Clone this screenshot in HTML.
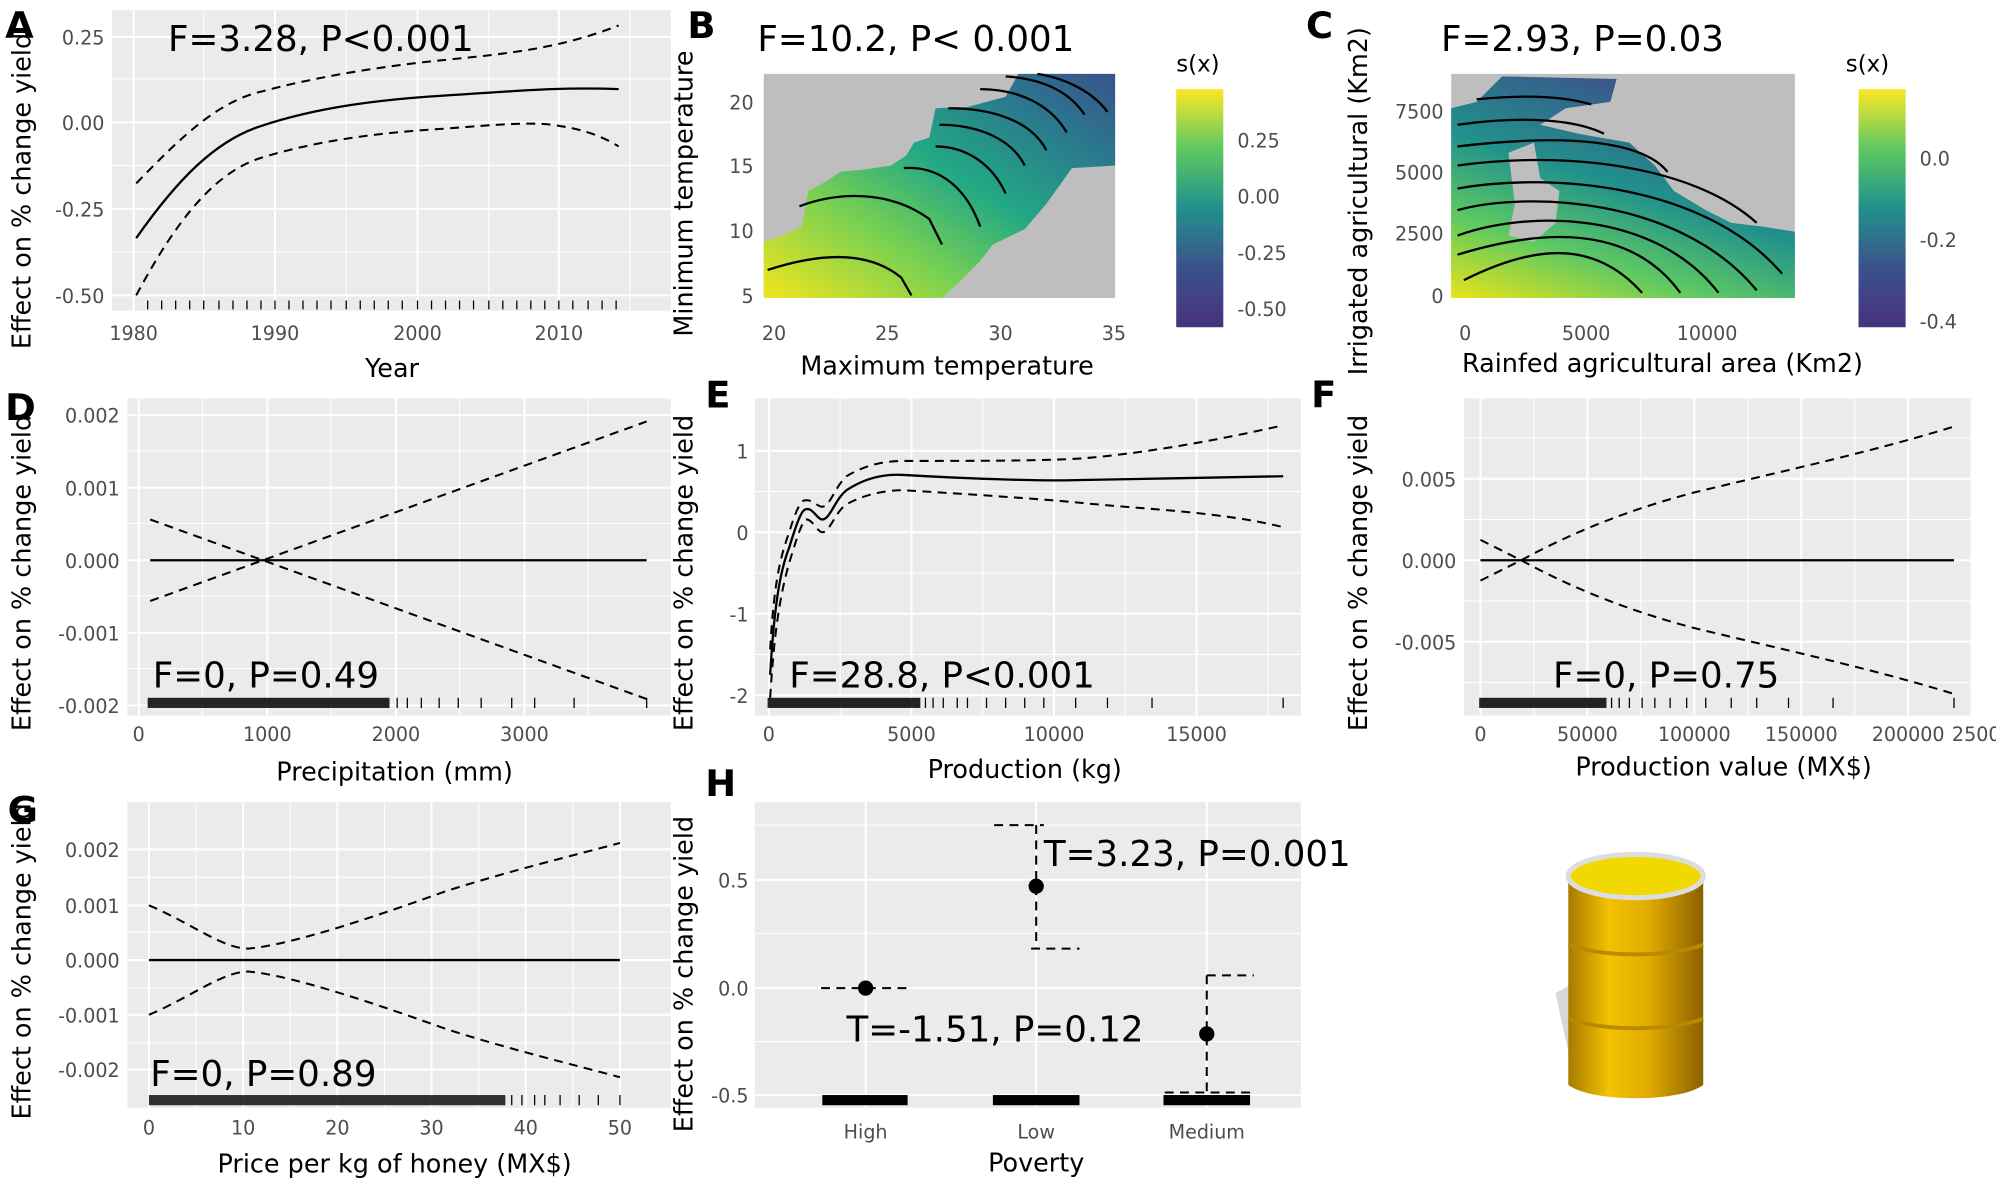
<!DOCTYPE html>
<html><head><meta charset="utf-8"><style>
html,body{margin:0;padding:0;background:#fff;}
svg{display:block;}
text{font-family:"DejaVu Sans","Liberation Sans",sans-serif;}
.tk{font-size:15px;fill:#4d4d4d;}
.ax{font-size:20px;fill:#000;}
.an{font-size:28px;fill:#000;}
.lt{font-size:29px;font-weight:bold;fill:#000;}
.g{fill:#ebebeb;}
.gm{stroke:#fff;stroke-width:1.6;}
.gn{stroke:#fff;stroke-width:0.8;}
.s{fill:none;stroke:#000;stroke-width:1.8;}
.d{fill:none;stroke:#000;stroke-width:1.6;stroke-dasharray:7,5;}
</style></head><body>
<svg width="1996" height="1188" viewBox="0 0 1568 933" preserveAspectRatio="none" xmlns="http://www.w3.org/2000/svg">
<defs>
<linearGradient id="vir" x1="0" y1="0" x2="0" y2="1">
<stop offset="0" stop-color="#fde725"/><stop offset="0.25" stop-color="#5ec962"/><stop offset="0.5" stop-color="#21918c"/><stop offset="0.75" stop-color="#3b528b"/><stop offset="1" stop-color="#46327e"/>
</linearGradient>
<linearGradient id="gb" x1="0" y1="1" x2="1" y2="0">
<stop offset="0" stop-color="#f2e51d"/><stop offset="0.3" stop-color="#7ad151"/><stop offset="0.55" stop-color="#22a884"/><stop offset="0.8" stop-color="#2a788e"/><stop offset="1" stop-color="#3b528b"/>
</linearGradient>
<linearGradient id="gc" x1="0" y1="1" x2="0.5" y2="0">
<stop offset="0" stop-color="#e8e419"/><stop offset="0.3" stop-color="#5ec962"/><stop offset="0.6" stop-color="#21918c"/><stop offset="1" stop-color="#3b528b"/>
</linearGradient>
<linearGradient id="barrel" x1="0" y1="0" x2="1" y2="0">
<stop offset="0" stop-color="#a87a00"/><stop offset="0.3" stop-color="#f2c200"/><stop offset="0.6" stop-color="#e0aa00"/><stop offset="1" stop-color="#8a6000"/>
</linearGradient>
</defs>

<!-- Panel A -->
<rect class="g" x="88" y="8" width="439" height="236"/>
<g class="gn"><line x1="88" x2="527" y1="62" y2="62"/><line x1="88" x2="527" y1="130" y2="130"/><line x1="88" x2="527" y1="198" y2="198"/><line x1="160" x2="160" y1="8" y2="244"/><line x1="272" x2="272" y1="8" y2="244"/><line x1="384" x2="384" y1="8" y2="244"/><line x1="495" x2="495" y1="8" y2="244"/></g>
<g class="gm"><line x1="88" x2="527" y1="29" y2="29"/><line x1="88" x2="527" y1="96" y2="96"/><line x1="88" x2="527" y1="164" y2="164"/><line x1="88" x2="527" y1="232" y2="232"/><line x1="105" x2="105" y1="8" y2="244"/><line x1="216" x2="216" y1="8" y2="244"/><line x1="328" x2="328" y1="8" y2="244"/><line x1="439" x2="439" y1="8" y2="244"/></g>
<path class="s" d="M107,187 C140,140 170,110 205,99 C250,84 300,78 350,75 C400,72 440,68 486,70"/>
<path class="d" d="M107,144 C140,110 170,80 205,72 C250,60 300,52 350,47 C400,42 440,38 486,20"/>
<path class="d" d="M107,232 C140,170 170,135 205,124 C250,110 300,104 350,101 C390,98 420,95 440,99 C460,102 475,108 486,115"/>
<g stroke="#000" stroke-width="1">
<path d="M116,236v7M127,236v7M138,236v7M149,236v7M160,236v7M172,236v7M183,236v7M194,236v7M205,236v7M216,236v7M227,236v7M238,236v7M249,236v7M260,236v7M272,236v7M283,236v7M294,236v7M305,236v7M316,236v7M328,236v7M339,236v7M350,236v7M361,236v7M372,236v7M384,236v7M395,236v7M406,236v7M417,236v7M428,236v7M439,236v7M450,236v7M462,236v7M473,236v7M484,236v7"/></g>
<g class="tk" text-anchor="end"><text x="82" y="35">0.25</text><text x="82" y="102">0.00</text><text x="82" y="170">-0.25</text><text x="82" y="238">-0.50</text></g>
<g class="tk" text-anchor="middle"><text x="105" y="267">1980</text><text x="216" y="267">1990</text><text x="328" y="267">2000</text><text x="439" y="267">2010</text></g>
<text class="ax" x="308" y="296" text-anchor="middle">Year</text>
<text class="ax" transform="translate(24,150) rotate(-90)" text-anchor="middle">Effect on % change yield</text>
<text class="an" x="132" y="40">F=3.28, P&lt;0.001</text>
<text class="lt" x="4" y="30">A</text>

<!-- Panel B -->
<rect x="600" y="58" width="276" height="176" fill="#bebebe"/>
<path fill="url(#gb)" d="M600,234 L600,190 L615,185 L630,178 L635,150 L650,142 L660,135 L680,133 L700,130 L712,122 L718,112 L730,108 L735,85 L760,84 L790,76 L800,58 L876,58 L876,130 L842,132 L835,142 L822,160 L805,180 L780,192 L770,205 L755,220 L740,234 Z"/>
<g class="s" stroke-width="1.6">
<path d="M603,212 C640,200 680,195 708,218 L716,232"/>
<path d="M628,162 C660,150 700,150 730,172 L740,192"/>
<path d="M710,132 C740,130 760,150 770,178"/>
<path d="M735,115 C760,115 780,130 790,152"/>
<path d="M738,98 C770,98 795,110 805,130"/>
<path d="M745,85 C780,85 810,95 822,118"/>
<path d="M770,70 C800,70 825,82 838,104"/>
<path d="M790,60 C820,62 840,72 852,90"/>
<path d="M815,58 C840,62 860,74 870,88"/>
</g>
<g class="tk" text-anchor="end"><text x="592" y="86">20</text><text x="592" y="136">15</text><text x="592" y="187">10</text><text x="592" y="238">5</text></g>
<g class="tk" text-anchor="middle"><text x="608" y="267">20</text><text x="697" y="267">25</text><text x="786" y="267">30</text><text x="875" y="267">35</text></g>
<text class="ax" x="744" y="294" text-anchor="middle">Maximum temperature</text>
<text class="ax" transform="translate(544,152) rotate(-90)" text-anchor="middle">Minimum temperature</text>
<text class="an" x="595" y="40">F=10.2, P&lt; 0.001</text>
<text class="lt" x="540" y="30">B</text>
<text class="ax" x="924" y="56" style="font-size:18px">s(x)</text>
<rect x="924" y="70" width="37" height="187" fill="url(#vir)"/>
<g class="tk"><text x="972" y="116">0.25</text><text x="972" y="160">0.00</text><text x="972" y="204">-0.25</text><text x="972" y="248">-0.50</text></g>

<!-- Panel C -->
<rect x="1140" y="58" width="270" height="176" fill="#bebebe"/>
<path fill="url(#gc)" d="M1140,234 L1140,85 L1160,80 L1180,60 L1270,62 L1265,80 L1230,85 L1210,98 L1240,105 L1280,112 L1300,130 L1315,150 L1340,165 L1360,175 L1385,178 L1410,182 L1410,234 Z"/>
<path fill="#bebebe" d="M1185,120 L1205,112 L1210,140 L1225,150 L1222,175 L1205,190 L1185,185 L1190,160 Z"/>
<g class="s" stroke-width="1.6">
<path d="M1150,220 C1200,195 1250,185 1290,230"/>
<path d="M1145,200 C1210,180 1280,175 1320,230"/>
<path d="M1145,185 C1200,165 1300,165 1350,230"/>
<path d="M1145,165 C1200,150 1320,155 1380,228"/>
<path d="M1145,148 C1220,135 1340,145 1400,215"/>
<path d="M1145,130 C1230,118 1330,130 1380,175"/>
<path d="M1145,115 C1230,105 1290,110 1310,135"/>
<path d="M1145,98 C1200,90 1240,95 1260,105"/>
<path d="M1160,78 C1200,74 1230,76 1250,82"/>
</g>
<g class="tk" text-anchor="end"><text x="1134" y="93">7500</text><text x="1134" y="141">5000</text><text x="1134" y="189">2500</text><text x="1134" y="238">0</text></g>
<g class="tk" text-anchor="middle"><text x="1151" y="267">0</text><text x="1246" y="267">5000</text><text x="1341" y="267">10000</text></g>
<text class="ax" x="1306" y="292" text-anchor="middle">Rainfed agricultural area (Km2)</text>
<text class="ax" transform="translate(1074,158) rotate(-90)" text-anchor="middle">Irrigated agricultural (Km2)</text>
<text class="an" x="1132" y="40">F=2.93, P=0.03</text>
<text class="lt" x="1026" y="30">C</text>
<text class="ax" x="1450" y="56" style="font-size:18px">s(x)</text>
<rect x="1460" y="70" width="37" height="187" fill="url(#vir)"/>
<g class="tk"><text x="1508" y="130">0.0</text><text x="1508" y="194">-0.2</text><text x="1508" y="258">-0.4</text></g>

<!-- Panel D -->
<rect class="g" x="100" y="313" width="427" height="249"/>
<g class="gn"><line x1="100" x2="527" y1="354" y2="354"/><line x1="100" x2="527" y1="411" y2="411"/><line x1="100" x2="527" y1="468" y2="468"/><line x1="100" x2="527" y1="525" y2="525"/><line x1="159" x2="159" y1="313" y2="562"/><line x1="260" x2="260" y1="313" y2="562"/><line x1="361" x2="361" y1="313" y2="562"/><line x1="462" x2="462" y1="313" y2="562"/></g>
<g class="gm"><line x1="100" x2="527" y1="326" y2="326"/><line x1="100" x2="527" y1="383" y2="383"/><line x1="100" x2="527" y1="440" y2="440"/><line x1="100" x2="527" y1="497" y2="497"/><line x1="100" x2="527" y1="554" y2="554"/><line x1="109" x2="109" y1="313" y2="562"/><line x1="210" x2="210" y1="313" y2="562"/><line x1="311" x2="311" y1="313" y2="562"/><line x1="412" x2="412" y1="313" y2="562"/></g>
<line class="s" x1="118" x2="508" y1="440" y2="440"/>
<line class="d" x1="118" x2="508" y1="472" y2="331"/>
<line class="d" x1="118" x2="508" y1="408" y2="549"/>
<rect x="116" y="548" width="190" height="8" fill="#000" opacity="0.85"/>
<path stroke="#000" stroke-width="1" d="M312,548v8M320,548v8M331,548v8M345,548v8M360,548v8M378,548v8M402,548v8M420,548v8M451,548v8M508,548v8"/>
<g class="tk" text-anchor="end"><text x="94" y="332">0.002</text><text x="94" y="389">0.001</text><text x="94" y="446">0.000</text><text x="94" y="503">-0.001</text><text x="94" y="560">-0.002</text></g>
<g class="tk" text-anchor="middle"><text x="109" y="582">0</text><text x="210" y="582">1000</text><text x="311" y="582">2000</text><text x="412" y="582">3000</text></g>
<text class="ax" x="310" y="613" text-anchor="middle">Precipitation (mm)</text>
<text class="ax" transform="translate(24,450) rotate(-90)" text-anchor="middle">Effect on % change yield</text>
<text class="an" x="120" y="540">F=0, P=0.49</text>
<text class="lt" x="4" y="330">D</text>

<!-- Panel E -->
<rect class="g" x="593" y="313" width="429" height="249"/>
<g class="gn"><line x1="593" x2="1022" y1="386" y2="386"/><line x1="593" x2="1022" y1="450" y2="450"/><line x1="593" x2="1022" y1="514" y2="514"/><line x1="660" x2="660" y1="313" y2="562"/><line x1="772" x2="772" y1="313" y2="562"/><line x1="884" x2="884" y1="313" y2="562"/><line x1="996" x2="996" y1="313" y2="562"/></g>
<g class="gm"><line x1="593" x2="1022" y1="354" y2="354"/><line x1="593" x2="1022" y1="418" y2="418"/><line x1="593" x2="1022" y1="482" y2="482"/><line x1="593" x2="1022" y1="546" y2="546"/><line x1="604" x2="604" y1="313" y2="562"/><line x1="716" x2="716" y1="313" y2="562"/><line x1="828" x2="828" y1="313" y2="562"/><line x1="940" x2="940" y1="313" y2="562"/></g>
<path class="s" d="M605,530 C608,480 612,450 620,430 C626,410 630,400 633,400 C638,398 642,408 646,408 C652,408 656,392 665,385 C680,375 695,372 710,373 C760,376 820,378 850,377 C900,376 960,375 1008,374"/>
<path class="d" d="M605,510 C608,460 612,440 620,418 C626,398 630,392 633,393 C638,392 642,398 646,398 C652,398 656,382 665,374 C680,365 695,362 710,362 C760,362 820,362 850,360 C900,356 960,345 1008,334"/>
<path class="d" d="M605,548 C608,500 612,470 620,442 C626,422 630,410 633,408 C638,407 642,418 646,418 C652,418 656,402 665,396 C680,388 695,385 710,385 C760,388 820,392 850,395 C900,400 960,402 1008,414"/>
<rect x="603" y="548" width="120" height="8" fill="#000" opacity="0.85"/>
<path stroke="#000" stroke-width="1" d="M727,548v8M733,548v8M741,548v8M752,548v8M760,548v8M775,548v8M790,548v8M805,548v8M820,548v8M845,548v8M870,548v8M905,548v8M1008,548v8"/>
<g class="tk" text-anchor="end"><text x="588" y="360">1</text><text x="588" y="424">0</text><text x="588" y="488">-1</text><text x="588" y="552">-2</text></g>
<g class="tk" text-anchor="middle"><text x="604" y="582">0</text><text x="716" y="582">5000</text><text x="828" y="582">10000</text><text x="940" y="582">15000</text></g>
<text class="ax" x="805" y="611" text-anchor="middle">Production (kg)</text>
<text class="ax" transform="translate(544,450) rotate(-90)" text-anchor="middle">Effect on % change yield</text>
<text class="an" x="620" y="540">F=28.8, P&lt;0.001</text>
<text class="lt" x="554" y="320">E</text>

<!-- Panel F -->
<rect class="g" x="1150" y="313" width="398" height="249"/>
<g class="gn"><line x1="1150" x2="1548" y1="344" y2="344"/><line x1="1150" x2="1548" y1="408" y2="408"/><line x1="1150" x2="1548" y1="472" y2="472"/><line x1="1150" x2="1548" y1="536" y2="536"/><line x1="1205" x2="1205" y1="313" y2="562"/><line x1="1289" x2="1289" y1="313" y2="562"/><line x1="1373" x2="1373" y1="313" y2="562"/><line x1="1457" x2="1457" y1="313" y2="562"/></g>
<g class="gm"><line x1="1150" x2="1548" y1="376" y2="376"/><line x1="1150" x2="1548" y1="440" y2="440"/><line x1="1150" x2="1548" y1="504" y2="504"/><line x1="1163" x2="1163" y1="313" y2="562"/><line x1="1247" x2="1247" y1="313" y2="562"/><line x1="1331" x2="1331" y1="313" y2="562"/><line x1="1415" x2="1415" y1="313" y2="562"/><line x1="1499" x2="1499" y1="313" y2="562"/></g>
<line class="s" x1="1163" x2="1535" y1="440" y2="440"/>
<path class="d" d="M1163,456 L1195,440 C1250,410 1300,395 1330,387 C1400,370 1470,355 1535,335"/>
<path class="d" d="M1163,424 L1195,440 C1250,470 1300,485 1330,493 C1400,510 1470,525 1535,545"/>
<rect x="1162" y="548" width="100" height="8" fill="#000" opacity="0.85"/>
<path stroke="#000" stroke-width="1" d="M1266,548v8M1272,548v8M1280,548v8M1290,548v8M1300,548v8M1312,548v8M1325,548v8M1340,548v8M1360,548v8M1380,548v8M1405,548v8M1440,548v8M1535,548v8"/>
<g class="tk" text-anchor="end"><text x="1144" y="382">0.005</text><text x="1144" y="446">0.000</text><text x="1144" y="510">-0.005</text></g>
<g class="tk" text-anchor="middle"><text x="1163" y="582">0</text><text x="1247" y="582">50000</text><text x="1331" y="582">100000</text><text x="1415" y="582">150000</text><text x="1499" y="582">200000</text><text x="1562" y="582">250000</text></g>
<text class="ax" x="1354" y="609" text-anchor="middle">Production value (MX$)</text>
<text class="ax" transform="translate(1074,450) rotate(-90)" text-anchor="middle">Effect on % change yield</text>
<text class="an" x="1220" y="540">F=0, P=0.75</text>
<text class="lt" x="1030" y="320">F</text>

<!-- Panel G -->
<rect class="g" x="100" y="630" width="427" height="240"/>
<g class="gn"><line x1="100" x2="527" y1="689" y2="689"/><line x1="100" x2="527" y1="732" y2="732"/><line x1="100" x2="527" y1="776" y2="776"/><line x1="100" x2="527" y1="819" y2="819"/><line x1="154" x2="154" y1="630" y2="870"/><line x1="228" x2="228" y1="630" y2="870"/><line x1="302" x2="302" y1="630" y2="870"/><line x1="376" x2="376" y1="630" y2="870"/><line x1="450" x2="450" y1="630" y2="870"/></g>
<g class="gm"><line x1="100" x2="527" y1="667" y2="667"/><line x1="100" x2="527" y1="711" y2="711"/><line x1="100" x2="527" y1="754" y2="754"/><line x1="100" x2="527" y1="797" y2="797"/><line x1="100" x2="527" y1="840" y2="840"/><line x1="117" x2="117" y1="630" y2="870"/><line x1="191" x2="191" y1="630" y2="870"/><line x1="265" x2="265" y1="630" y2="870"/><line x1="339" x2="339" y1="630" y2="870"/><line x1="413" x2="413" y1="630" y2="870"/><line x1="487" x2="487" y1="630" y2="870"/></g>
<line class="s" x1="117" x2="487" y1="754" y2="754"/>
<path class="d" d="M117,711 C150,725 175,745 195,745 C230,742 300,718 350,700 C400,684 450,672 487,662"/>
<path class="d" d="M117,797 C150,783 175,763 195,763 C230,766 300,790 350,808 C400,824 450,836 487,846"/>
<rect x="117" y="860" width="280" height="8" fill="#000" opacity="0.8"/>
<path stroke="#000" stroke-width="1" d="M402,860v8M410,860v8M420,860v8M428,860v8M440,860v8M455,860v8M470,860v8M487,860v8"/>
<g class="tk" text-anchor="end"><text x="94" y="673">0.002</text><text x="94" y="717">0.001</text><text x="94" y="760">0.000</text><text x="94" y="803">-0.001</text><text x="94" y="846">-0.002</text></g>
<g class="tk" text-anchor="middle"><text x="117" y="891">0</text><text x="191" y="891">10</text><text x="265" y="891">20</text><text x="339" y="891">30</text><text x="413" y="891">40</text><text x="487" y="891">50</text></g>
<text class="ax" x="310" y="921" text-anchor="middle">Price per kg of honey (MX$)</text>
<text class="ax" transform="translate(24,755) rotate(-90)" text-anchor="middle">Effect on % change yield</text>
<text class="an" x="118" y="853">F=0, P=0.89</text>
<text class="lt" x="6" y="646">G</text>

<!-- Panel H -->
<rect class="g" x="593" y="630" width="429" height="240"/>
<g class="gn"><line x1="593" x2="1022" y1="733" y2="733"/><line x1="593" x2="1022" y1="818" y2="818"/><line x1="593" x2="1022" y1="648" y2="648"/></g>
<g class="gm"><line x1="593" x2="1022" y1="691" y2="691"/><line x1="593" x2="1022" y1="776" y2="776"/><line x1="593" x2="1022" y1="860" y2="860"/><line x1="680" x2="680" y1="630" y2="870"/><line x1="814" x2="814" y1="630" y2="870"/><line x1="948" x2="948" y1="630" y2="870"/></g>
<line class="d" x1="645" x2="712" y1="776" y2="776"/>
<path class="d" d="M781,648 H820 M814,648 V745 M810,745 H848"/>
<path class="d" d="M948,766 H985 M948,766 V858 M915,858 H985"/>
<circle cx="680" cy="776" r="6" fill="#000"/>
<circle cx="814" cy="696" r="6" fill="#000"/>
<circle cx="948" cy="812" r="6" fill="#000"/>
<rect x="646" y="860" width="67" height="8" fill="#000"/>
<rect x="780" y="860" width="68" height="8" fill="#000"/>
<rect x="914" y="860" width="68" height="8" fill="#000"/>
<g class="tk" text-anchor="end"><text x="588" y="697">0.5</text><text x="588" y="782">0.0</text><text x="588" y="866">-0.5</text></g>
<g class="tk" text-anchor="middle"><text x="680" y="894">High</text><text x="814" y="894">Low</text><text x="948" y="894">Medium</text></g>
<text class="ax" x="814" y="920" text-anchor="middle">Poverty</text>
<text class="ax" transform="translate(544,765) rotate(-90)" text-anchor="middle">Effect on % change yield</text>
<text class="an" x="820" y="680">T=3.23, P=0.001</text>
<text class="an" x="665" y="818">T=-1.51, P=0.12</text>
<text class="lt" x="554" y="625">H</text>

<!-- Barrel -->
<path d="M1235,840 L1222,780 L1240,770 L1260,855 Z" fill="#bdbdbd" opacity="0.6"/>
<path d="M1232,688 L1232,852 C1250,866 1320,866 1338,852 L1338,688 Z" fill="url(#barrel)"/>
<ellipse cx="1285" cy="688" rx="53" ry="17" fill="#f0d800" stroke="#ddd" stroke-width="4"/>
<path d="M1232,742 C1260,752 1310,752 1338,742" stroke="#b88a00" stroke-width="3" fill="none"/>
<path d="M1232,800 C1260,810 1310,810 1338,800" stroke="#b88a00" stroke-width="3" fill="none"/>
</svg>
</body></html>
